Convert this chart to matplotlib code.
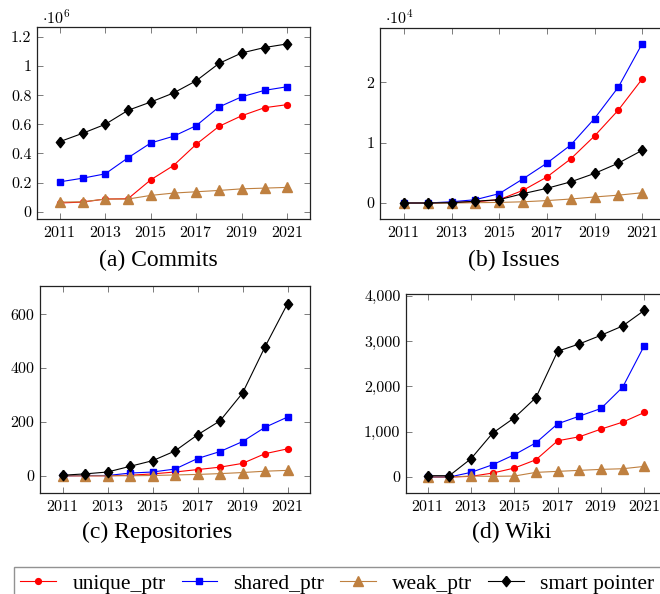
import numpy as np
import matplotlib
matplotlib.use('Agg')
import matplotlib.pyplot as plt
from matplotlib.ticker import FixedLocator, FuncFormatter
from matplotlib.lines import Line2D

plt.rcParams['font.family'] = 'cmr10'
plt.rcParams['mathtext.fontset'] = 'cm'
plt.rcParams['axes.formatter.use_mathtext'] = True

years = list(range(2011, 2022))

# commits
commits_unique = [60000, 66000, 87000, 89000, 219000, 317000, 463000, 586000, 659000, 714000, 735000]
commits_shared = [205000, 230000, 260000, 370000, 472000, 518000, 591000, 719000, 789000, 833000, 858000]
commits_weak = [66000, 68000, 87000, 87000, 112000, 128000, 137000, 146000, 157000, 162000, 167000]
commits_smart = [481000, 538000, 600000, 696000, 753000, 815000, 899000, 1018000, 1090000, 1127000, 1152000]

# issues
issues_unique = [0, 0, 100, 200, 550, 2100, 4300, 7300, 11100, 15400, 20550]
issues_shared = [0, 0, 200, 550, 1550, 4000, 6600, 9600, 14000, 19200, 26400]
issues_weak = [0, 0, 0, 50, 100, 200, 400, 660, 1000, 1300, 1700]
issues_smart = [0, 0, 50, 300, 550, 1550, 2430, 3500, 4900, 6600, 8730]

# repositories
repos_unique = [0, 0, 0, 2, 7, 14, 23, 32, 46, 82, 100]
repos_shared = [0, 1, 1, 10, 14, 25, 64, 90, 127, 180, 218]
repos_weak = [0, 0, 0, 0, 1, 3, 5, 8, 12, 17, 20]
repos_smart = [2, 7, 14, 35, 56, 92, 152, 204, 307, 479, 639]

# wiki
wiki_unique = [0, 0, 15, 88, 198, 382, 800, 888, 1057, 1211, 1424]
wiki_shared = [0, 0, 103, 272, 492, 756, 1174, 1343, 1512, 1982, 2899]
wiki_weak = [0, 0, 22, 15, 22, 103, 125, 147, 169, 183, 235]
wiki_smart = [30, 30, 404, 969, 1306, 1754, 2774, 2936, 3127, 3332, 3677]

series_names = ['unique_ptr', 'shared_ptr', 'weak_ptr', 'smart pointer']
captions = ['(a) Commits', '(b) Issues', '(c) Repositories', '(d) Wiki']

diamond = [(0, 1), (0.8, 0), (0, -1), (-0.8, 0), (0, 1)]
styles = [
    dict(color='#ff0000', marker='o', ms=4.2),
    dict(color='#0000ff', marker='s', ms=4.3),
    dict(color='#bf8040', marker='^', ms=6.5),
    dict(color='black', marker=diamond, ms=7.5),
]

W, H = 660, 594
fig = plt.figure(figsize=(W / 100, H / 100), dpi=100)


def box(l, t, r, b):
    return [l / W, 1 - b / H, (r - l) / W, (b - t) / H]


def fmt_plain(v, pos):
    return '%g' % v


def fmt_comma(v, pos):
    return '{:,.0f}'.format(v)


panels = [
    (box(37, 27, 310, 219), [commits_unique, commits_shared, commits_weak, commits_smart],
     1e6, (-0.05, 1.268), [0, 0.2, 0.4, 0.6, 0.8, 1, 1.2], fmt_plain, r'$\cdot 10^6$'),
    (box(380, 28, 666, 219), [issues_unique, issues_shared, issues_weak, issues_smart],
     1e4, (-0.265, 2.9), [0, 1, 2], fmt_plain, r'$\cdot 10^4$'),
    (box(40, 286, 310, 493), [repos_unique, repos_shared, repos_weak, repos_smart],
     1, (-64, 705), [0, 200, 400, 600], fmt_plain, None),
    (box(406, 294, 666, 493), [wiki_unique, wiki_shared, wiki_weak, wiki_smart],
     1, (-352, 4037), [0, 1000, 2000, 3000, 4000], fmt_comma, None),
]

for rect, data, scale, ylim, yticks, fmt, mult in panels:
    ax = fig.add_axes(rect)
    for vals, st in zip(data, styles):
        ax.plot(years, np.array(vals) / scale, lw=0.8, mec=st['color'],
                clip_on=False, **st)
    ax.set_xlim(2010, 2022)
    ax.set_ylim(*ylim)
    ax.xaxis.set_major_locator(FixedLocator([2011, 2013, 2015, 2017, 2019, 2021]))
    ax.yaxis.set_major_locator(FixedLocator(yticks))
    ax.yaxis.set_major_formatter(FuncFormatter(fmt))
    ax.tick_params(direction='in', top=True, right=True, length=4, width=0.6,
                   color='#666666', labelsize=11.5, pad=4)
    for s in ax.spines.values():
        s.set_linewidth(0.9)
        s.set_color('#222222')
    if mult:
        fig.text(rect[0] + 5 / W, 1 - 17 / H, mult, fontsize=11.5, va='center', ha='left')

cap_pos = [(158, 260), (514, 260), (157, 532), (512, 532)]
for (cx, cy), cap in zip(cap_pos, captions):
    fig.text(cx / W, 1 - cy / H, cap, ha='center', va='center',
             fontsize=17, family='Liberation Serif')

handles = [Line2D([], [], lw=0.8, mec=st['color'], **st) for st in styles]
fig.legend(handles, series_names, loc='upper left', bbox_to_anchor=(14 / W, 1 - 567 / H),
           ncol=4, frameon=True, fancybox=False, edgecolor='#777777', borderaxespad=0,
           borderpad=0.3, handlelength=1.67, handletextpad=0.74, columnspacing=0.74,
           prop={'family': 'Liberation Serif', 'size': 15.5})

fig.savefig('out.png', dpi=100)
